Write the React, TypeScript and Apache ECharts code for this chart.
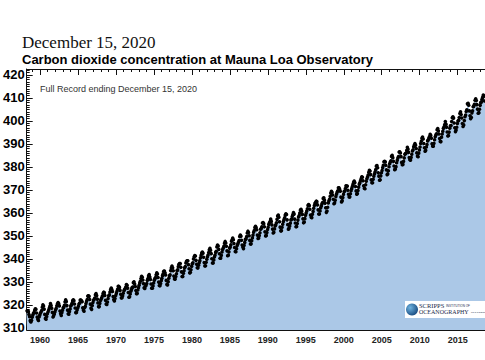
import React, { useEffect, useRef } from "react";
import * as echarts from "echarts";

// Monthly mean CO2 (ppm) at Mauna Loa, starting March 1958
const startYear = 1958;
const startMonth = 2; // March (0-based)

const co2From1958 = [
  315.71, 317.45, 317.5, 317.1, 315.86, 314.93, 313.2, 312.66, 313.33, 314.67,
  315.62, 316.38, 316.71, 317.72, 318.29, 318.15, 316.54, 314.8, 313.84, 313.26, 314.8, 315.58,
  316.43, 316.97, 317.58, 319.02, 320.03, 319.59, 318.18, 315.91, 314.16, 313.83, 315.0, 316.19,
  316.93, 317.7, 318.54, 319.48, 320.58, 319.77, 318.57, 316.79, 314.8, 315.38, 316.1, 317.01,
  317.94, 318.55, 319.68, 320.57, 321.02, 320.62, 319.61, 317.4, 316.25, 315.42, 316.69, 317.69,
  318.74, 319.07, 319.86, 321.38, 322.25, 321.48, 319.74, 317.77, 316.21, 315.99, 317.12, 318.31,
  319.57, 320.07, 320.73, 321.77, 322.25, 321.89, 320.44, 318.7, 316.7, 316.79, 317.79, 318.71,
  319.44, 320.44, 320.89, 322.13, 322.16, 321.87, 321.39, 318.81, 317.81, 317.3, 318.87, 319.42,
  320.62, 321.59, 322.39, 323.87, 324.01, 323.75, 322.39, 320.37, 318.64, 318.1, 319.79, 321.08,
  322.07, 322.5, 323.04, 324.42, 325.0, 324.09, 322.55, 320.92, 319.31, 319.31, 320.72, 321.96,
  322.57, 323.15, 323.89, 325.02, 325.57, 325.36, 324.14, 322.03, 320.41, 320.25, 321.31, 322.84,
  324.0, 324.42, 325.64, 326.66, 327.34, 326.76, 325.88, 323.67, 322.38, 321.78, 322.85, 324.11,
];
const co2From1970 = [
  325.03, 325.99, 326.87, 328.13, 328.07, 327.66, 326.35, 324.69, 323.1, 323.16, 323.98, 325.13,
  326.17, 326.68, 327.18, 327.78, 328.92, 328.57, 327.34, 325.46, 323.36, 323.57, 324.8, 326.01,
  326.77, 327.63, 327.75, 329.72, 330.07, 329.09, 328.05, 326.32, 324.93, 325.06, 326.5, 327.55,
  328.54, 329.56, 330.3, 331.5, 332.48, 332.07, 330.87, 329.31, 327.51, 327.18, 328.16, 328.64,
  329.35, 330.71, 331.48, 332.65, 333.19, 332.2, 331.07, 329.15, 327.33, 327.28, 328.31, 329.58,
  330.73, 331.46, 331.9, 333.17, 333.94, 333.45, 331.97, 329.95, 328.5, 328.34, 329.37, 330.58,
  331.59, 332.75, 333.52, 334.64, 334.77, 334.0, 333.06, 330.68, 328.95, 328.75, 330.15, 331.62,
  332.66, 333.13, 334.95, 336.13, 336.93, 336.17, 334.88, 332.56, 331.29, 331.27, 332.41, 333.6,
  334.95, 335.25, 336.66, 337.69, 338.03, 338.01, 336.41, 334.41, 332.37, 332.41, 333.75, 334.9,
  336.14, 336.69, 338.27, 338.96, 339.21, 339.26, 337.54, 335.75, 333.98, 334.19, 335.31, 336.81,
];
const co2From1980 = [
  337.9, 338.34, 340.01, 340.93, 341.48, 341.33, 339.4, 337.7, 336.19, 336.15, 337.27, 338.32,
  339.29, 340.55, 341.61, 342.53, 343.03, 342.54, 340.78, 338.44, 336.95, 337.08, 338.58, 339.88,
  340.96, 341.73, 342.81, 343.97, 344.63, 343.79, 342.32, 340.09, 338.28, 338.29, 339.6, 340.9,
  341.68, 342.9, 343.33, 345.25, 346.03, 345.63, 344.19, 342.27, 340.35, 340.38, 341.59, 343.05,
  344.1, 344.79, 345.52, 346.84, 347.63, 346.98, 345.53, 343.55, 341.4, 341.67, 343.1, 344.7,
  345.21, 346.16, 347.74, 348.34, 349.06, 348.38, 346.72, 345.02, 343.27, 343.13, 344.49, 345.88,
  346.56, 347.28, 348.01, 349.77, 350.38, 349.93, 348.16, 346.08, 345.22, 344.51, 345.93, 347.21,
  348.52, 348.73, 349.73, 351.31, 352.09, 351.53, 350.11, 348.08, 346.52, 346.59, 347.96, 349.16,
  350.39, 351.64, 352.41, 353.69, 354.21, 353.72, 352.69, 350.4, 348.92, 349.13, 350.2, 351.41,
  352.91, 353.27, 353.96, 355.64, 355.86, 355.37, 353.99, 351.81, 350.05, 350.25, 351.49, 352.85,
];
const co2From1990 = [
  353.8, 355.04, 355.73, 356.32, 357.32, 356.34, 354.84, 353.01, 351.31, 351.62, 353.07, 354.33,
  354.84, 355.73, 357.23, 358.66, 359.13, 358.13, 356.19, 353.85, 352.25, 352.35, 353.81, 355.12,
  356.25, 357.11, 357.86, 359.09, 359.59, 359.33, 357.01, 354.94, 352.96, 353.32, 354.32, 355.57,
  357.0, 357.31, 358.47, 359.27, 360.19, 359.52, 357.33, 355.64, 354.03, 354.12, 355.41, 356.91,
  358.24, 358.92, 359.99, 361.23, 361.65, 360.81, 359.38, 357.46, 355.73, 356.07, 357.53, 358.98,
  359.92, 360.86, 361.83, 363.3, 363.69, 363.19, 361.64, 359.12, 358.17, 357.99, 359.45, 360.68,
  362.07, 363.24, 364.17, 364.57, 365.13, 364.92, 363.55, 361.38, 359.54, 359.58, 360.89, 362.24,
  363.09, 364.03, 364.51, 366.35, 366.64, 365.59, 364.31, 362.25, 360.29, 360.82, 362.49, 364.38,
  365.27, 365.98, 367.24, 368.66, 369.42, 368.99, 367.82, 365.95, 364.02, 364.4, 365.52, 367.13,
  368.18, 369.07, 369.68, 370.99, 370.96, 370.3, 369.45, 366.9, 364.81, 365.37, 366.72, 368.1,
];
const co2From2000 = [
  369.29, 369.54, 370.6, 371.82, 371.58, 371.7, 369.86, 368.13, 367.0, 367.03, 368.37, 369.67,
  370.59, 371.51, 372.43, 373.37, 373.85, 373.21, 371.51, 369.61, 368.18, 368.45, 369.76, 371.24,
  372.53, 373.2, 374.12, 375.02, 375.76, 375.52, 374.01, 371.85, 370.75, 370.55, 372.25, 373.79,
  374.88, 375.64, 376.45, 377.73, 378.6, 378.28, 376.7, 374.38, 373.17, 373.14, 374.66, 375.99,
  377.0, 377.87, 378.88, 380.35, 380.62, 379.69, 377.47, 376.01, 374.25, 374.46, 376.16, 377.51,
  378.46, 379.73, 380.77, 382.29, 382.45, 382.21, 380.74, 378.74, 376.7, 377.0, 378.35, 380.11,
  381.38, 382.19, 382.67, 384.61, 385.03, 384.05, 382.46, 380.41, 378.85, 379.13, 380.15, 381.82,
  382.89, 383.9, 384.58, 386.5, 386.56, 386.1, 384.5, 381.99, 380.96, 381.12, 382.45, 383.95,
  385.52, 385.82, 386.03, 387.21, 388.54, 387.76, 386.36, 384.09, 383.18, 382.99, 384.19, 385.56,
  386.94, 387.48, 388.82, 389.55, 390.14, 389.48, 388.03, 386.11, 384.74, 384.43, 386.02, 387.42,
];
const co2From2010 = [
  388.71, 390.2, 391.17, 392.46, 393.0, 392.15, 390.2, 388.35, 386.85, 387.24, 388.67, 389.79,
  391.33, 391.86, 392.6, 393.25, 394.19, 393.74, 392.51, 390.13, 389.08, 389.0, 390.28, 391.86,
  393.12, 393.86, 394.4, 396.18, 396.74, 395.71, 394.36, 392.39, 391.11, 391.05, 392.98, 394.34,
  395.55, 396.8, 397.43, 398.41, 399.78, 398.61, 397.32, 395.2, 393.45, 393.7, 395.16, 396.84,
  397.85, 398.01, 399.77, 401.38, 401.78, 401.25, 399.1, 397.03, 395.38, 396.03, 397.28, 398.91,
  399.98, 400.28, 401.54, 403.28, 403.96, 402.8, 401.31, 398.93, 397.63, 398.29, 400.16, 401.85,
  402.56, 404.12, 404.87, 407.45, 407.72, 406.83, 404.41, 402.27, 401.05, 401.59, 403.55, 404.45,
  406.17, 406.46, 407.22, 409.04, 409.69, 408.88, 407.12, 405.13, 403.37, 403.63, 405.12, 406.81,
  407.96, 408.32, 409.41, 410.24, 411.24, 410.79, 408.71, 406.99, 405.51, 406.0, 408.02, 409.07,
  410.83, 411.75, 411.97, 413.32, 414.66, 413.92, 411.77, 409.95, 408.54, 408.53, 410.27, 411.76,
  413.4, 414.11, 414.51, 416.21, 417.07, 416.39, 414.38, 412.55, 411.29, 411.28, 412.89, 414.26,
];

const yearLabels = [1960, 1965, 1970, 1975, 1980, 1985, 1990, 1995, 2000, 2005, 2010, 2015];
const minorYears = [1959, 1961, 1962, 1963, 1964, 1966, 1967, 1968, 1969, 1971, 1972, 1973, 1974, 1976, 1977, 1978, 1979, 1981, 1982, 1983, 1984, 1986, 1987, 1988, 1989, 1991, 1992, 1993, 1994, 1996, 1997, 1998, 1999, 2001, 2002, 2003, 2004, 2006, 2007, 2008, 2009, 2011, 2012, 2013, 2014, 2016, 2017, 2018];
const ppmLabels = [310, 320, 330, 340, 350, 360, 370, 380, 390, 400, 410, 420];
const minorPpm = [309, 311, 312, 313, 314, 315, 316, 317, 318, 319, 321, 322, 323, 324, 325, 326, 327, 328, 329, 331, 332, 333, 334, 335, 336, 337, 338, 339, 341, 342, 343, 344, 345, 346, 347, 348, 349, 351, 352, 353, 354, 355, 356, 357, 358, 359, 361, 362, 363, 364, 365, 366, 367, 368, 369, 371, 372, 373, 374, 375, 376, 377, 378, 379, 381, 382, 383, 384, 385, 386, 387, 388, 389, 391, 392, 393, 394, 395, 396, 397, 398, 399, 401, 402, 403, 404, 405, 406, 407, 408, 409, 411, 412, 413, 414, 415, 416, 417, 418, 419, 421, 422];

const X_MIN = 1958.24;
const X_MAX = 2018.6;
const Y_MIN = 309.13;
const Y_MAX = 422.6;

export default function App() {
  const ref = useRef<HTMLDivElement>(null);
  useEffect(() => {
    if (!ref.current) return;
    const chart = echarts.init(ref.current, undefined, { renderer: "svg" });
    const all = [...co2From1958, ...co2From1970, ...co2From1980, ...co2From1990, ...co2From2000, ...co2From2010];
    const data = all.map((v, i) => [startYear + (startMonth + i + 0.5) / 12, v]);
    const axisLine = { show: true, lineStyle: { color: "#111", width: 1 } };
    const xBase = { type: "value", min: X_MIN, max: X_MAX, splitLine: { show: false } };
    const yBase = { type: "value", min: Y_MIN, max: Y_MAX, splitLine: { show: false } };
    chart.setOption({
      animation: false,
      backgroundColor: "#fff",
      grid: { left: 22, right: 0, top: 69, bottom: 30, containLabel: false },
      xAxis: [
        {
          ...xBase,
          position: "bottom",
          axisLine,
          axisTick: { show: true, inside: true, length: 6, customValues: yearLabels, lineStyle: { color: "#111" } },
          axisLabel: {
            show: true,
            customValues: yearLabels,
            margin: 5,
            fontSize: 9,
            fontWeight: "bold",
            color: "#222",
            fontFamily: "Liberation Sans, Arial, sans-serif",
            formatter: (v: number) => String(Math.round(v)),
          },
        },
        {
          ...xBase,
          position: "bottom",
          axisLine: { show: false },
          axisTick: { show: true, inside: true, length: 3, customValues: minorYears, lineStyle: { color: "#111" } },
          axisLabel: { show: false },
        },
        {
          ...xBase,
          position: "top",
          axisLine,
          axisTick: { show: true, inside: true, length: 6, customValues: yearLabels, lineStyle: { color: "#111" } },
          axisLabel: { show: false },
        },
        {
          ...xBase,
          position: "top",
          axisLine: { show: false },
          axisTick: { show: true, inside: true, length: 3, customValues: minorYears, lineStyle: { color: "#111" } },
          axisLabel: { show: false },
        },
      ],
      yAxis: [
        {
          ...yBase,
          position: "left",
          axisLine,
          axisTick: { show: true, inside: true, length: 6, customValues: ppmLabels, lineStyle: { color: "#111" } },
          axisLabel: {
            show: true,
            customValues: ppmLabels,
            margin: 2,
            fontSize: 13,
            fontWeight: "bold",
            color: "#000",
            fontFamily: "Liberation Sans, Arial, sans-serif",
            formatter: (v: number) => String(Math.round(v)),
          },
        },
        {
          ...yBase,
          position: "left",
          axisLine: { show: false },
          axisTick: { show: true, inside: true, length: 3, customValues: minorPpm, lineStyle: { color: "#111" } },
          axisLabel: { show: false },
        },
      ],
      series: [
        {
          type: "line",
          xAxisIndex: 0,
          yAxisIndex: 0,
          data,
          clip: true,
          symbol: "circle",
          symbolSize: 3.6,
          showSymbol: true,
          itemStyle: { color: "#000" },
          lineStyle: { width: 0, opacity: 0 },
          areaStyle: { color: "#abc8e7", opacity: 1, origin: "start" },
          z: 2,
        },
      ],
      graphic: [
        {
          type: "text",
          x: 22,
          y: 42,
          style: { text: "December 15, 2020", font: '17px "Liberation Serif", "Times New Roman", serif', fill: "#111", verticalAlign: "middle" },
        },
        {
          type: "text",
          x: 22,
          y: 59,
          style: { text: "Carbon dioxide concentration at Mauna Loa Observatory", font: 'bold 13px "Liberation Sans", Arial, sans-serif', fill: "#000", verticalAlign: "middle" },
        },
        {
          type: "text",
          x: 40,
          y: 89,
          z: 100,
          style: { text: "Full Record ending December 15, 2020", font: '9px "Liberation Sans", Arial, sans-serif', fill: "#333", verticalAlign: "middle" },
        },
        { type: "rect", z: 100, shape: { x: 405, y: 301, width: 80, height: 17 }, style: { fill: "#fff" } },
        {
          type: "circle",
          z: 101,
          shape: { cx: 412, cy: 309.5, r: 6 },
          style: {
            fill: {
              type: "radial",
              x: 0.35,
              y: 0.35,
              r: 0.8,
              colorStops: [
                { offset: 0, color: "#6fb3e0" },
                { offset: 1, color: "#0d3d73" },
              ],
            },
          },
        },
        { type: "text", z: 101, x: 419, y: 305.5, style: { text: "SCRIPPS", font: '6.5px "Liberation Serif", serif', fill: "#1a2a4a", verticalAlign: "middle" } },
        { type: "text", z: 101, x: 446, y: 305.8, style: { text: "INSTITUTION OF", font: '3px "Liberation Sans", sans-serif', fill: "#1a2a4a", verticalAlign: "middle" } },
        { type: "text", z: 101, x: 419, y: 312, style: { text: "OCEANOGRAPHY", font: '6px "Liberation Serif", serif', fill: "#1a2a4a", verticalAlign: "middle" } },
        { type: "text", z: 101, x: 471, y: 312.5, style: { text: "UC SAN DIEGO", font: '2px "Liberation Sans", sans-serif', fill: "#1a2a4a", verticalAlign: "middle" } },
      ],
    });
    return () => chart.dispose();
  }, []);
  return <div ref={ref} style={{ position: "fixed", left: 0, top: 0, width: 485, height: 360 }} />;
}
